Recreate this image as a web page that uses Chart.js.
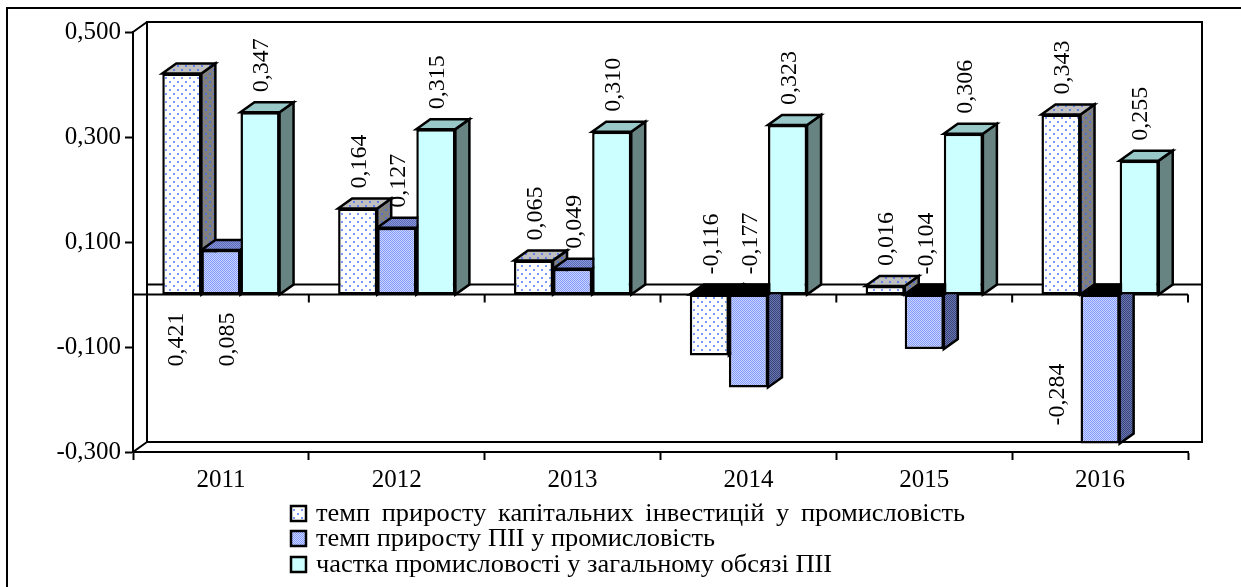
<!DOCTYPE html>
<html>
<head>
<meta charset="utf-8">
<script src="https://cdn.jsdelivr.net/npm/chart.js@4/dist/chart.umd.min.js"></script>
<style>
  body { margin: 0; background: #fff; }
  canvas { display: block; }
</style>
</head>
<body>
<canvas id="chart" width="1241" height="587"></canvas>
<script>
// data
const years = ["2011", "2012", "2013", "2014", "2015", "2016"];
const capInvestGrowth = [0.421, 0.164, 0.065, -0.116, 0.016, 0.343];
const fdiGrowth = [0.085, 0.127, 0.049, -0.177, -0.104, -0.284];
const industryShare = [0.347, 0.315, 0.310, 0.323, 0.306, 0.255];
const seriesNames = [
  "темп приросту капітальних інвестицій у промисловість",
  "темп приросту ПІІ у промисловість",
  "частка промисловості у загальному обсязі ПІІ"
];
const yTicks = [-0.3, -0.1, 0.1, 0.3, 0.5];

const FONT = "'Liberation Serif', 'Times New Roman', serif";
const DX = 14, DY = 10;

// labels that were moved by hand in the original: key "series-point"
const labelMoves = {
  "0-0": { below: 18, dx: -5 },
  "1-0": { below: 18, dx: 7 },
  "1-5": { below: 69, dx: -42 }
};

function fmt(v) {
  return v.toFixed(3).replace(".", ",");
}

// patterns
function dots(bg, dot) {
  const c = document.createElement("canvas");
  c.width = 8; c.height = 8;
  const g = c.getContext("2d");
  g.fillStyle = bg; g.fillRect(0, 0, 8, 8);
  g.fillStyle = dot;
  g.fillRect(1, 1, 2, 2);
  g.fillRect(5, 5, 2, 2);
  return g.createPattern(c, "repeat");
}
function checks(a, b) {
  const c = document.createElement("canvas");
  c.width = 2; c.height = 2;
  const g = c.getContext("2d");
  g.fillStyle = a; g.fillRect(0, 0, 2, 2);
  g.fillStyle = b; g.fillRect(0, 0, 1, 1); g.fillRect(1, 1, 1, 1);
  return g.createPattern(c, "repeat");
}

const faces = [
  { front: dots("#ffffff", "#7a98f8"), top: dots("#c0c0c0", "#6080e8"), side: dots("#808080", "#5070d8") },
  { front: checks("#ccd6ff", "#8299ff"), top: checks("#8a98d8", "#5a6ab8"), side: checks("#6c78b0", "#38427a") },
  { front: "#ccffff", top: "#99c8c8", side: "#678482" }
];

function poly(ctx, pts, fill) {
  ctx.beginPath();
  ctx.moveTo(pts[0][0], pts[0][1]);
  for (let i = 1; i < pts.length; i++) ctx.lineTo(pts[i][0], pts[i][1]);
  ctx.closePath();
  ctx.fillStyle = fill;
  ctx.fill();
  ctx.stroke();
}

const walls = {
  id: "walls",
  beforeDatasetsDraw(chart) {
    const ctx = chart.ctx;
    const a = chart.chartArea;
    const y = chart.scales.y;
    const y0 = y.getPixelForValue(0);
    ctx.save();
    ctx.strokeStyle = "#000";
    ctx.lineWidth = 2;
    // back wall
    ctx.strokeRect(a.left + DX, a.top - DY, a.right - a.left, a.bottom - a.top);
    ctx.beginPath();
    ctx.moveTo(a.left, a.top); ctx.lineTo(a.left + DX, a.top - DY);
    ctx.moveTo(a.left, a.bottom); ctx.lineTo(a.left + DX, a.bottom - DY);
    // floor at zero
    ctx.moveTo(a.left + DX, y0 - DY); ctx.lineTo(a.right + DX, y0 - DY);
    ctx.moveTo(a.left, y0); ctx.lineTo(a.right, y0);
    const step = (a.right - a.left) / years.length;
    for (let i = 0; i <= years.length; i++) {
      const px = a.left + i * step;
      ctx.moveTo(px, y0); ctx.lineTo(px, y0 + 8);
    }
    ctx.stroke();

    // value labels
    ctx.fillStyle = "#000";
    ctx.font = "24px " + FONT;
    ctx.textBaseline = "middle";
    ctx.textAlign = "left";
    chart.data.datasets.forEach((ds, si) => {
      const meta = chart.getDatasetMeta(si);
      meta.data.forEach((el, j) => {
        const p = el.getProps(["x", "y", "base"], true);
        const txt = fmt(ds.data[j]);
        const w = ctx.measureText(txt).width;
        const mv = labelMoves[si + "-" + j];
        let cx, bottom;
        if (mv) {
          cx = p.x + mv.dx;
          bottom = y0 + mv.below + w;
        } else {
          cx = p.x + 2;
          bottom = Math.min(p.y, p.base) - DY - 10;
        }
        ctx.save();
        ctx.translate(cx, bottom);
        ctx.rotate(-Math.PI / 2);
        ctx.fillText(txt, 0, 0);
        ctx.restore();
      });
    });

    // 3D tops and sides, left to right
    ctx.lineWidth = 2.5;
    years.forEach((_, j) => {
      chart.data.datasets.forEach((ds, si) => {
        const el = chart.getDatasetMeta(si).data[j];
        const p = el.getProps(["x", "y", "base", "width"], true);
        const l = p.x - p.width / 2, r = p.x + p.width / 2;
        const top = Math.min(p.y, p.base), bot = Math.max(p.y, p.base);
        const neg = ds.data[j] < 0;
        poly(ctx, [[r, top], [r + DX, top - DY], [r + DX, bot - DY], [r, bot]], faces[si].side);
        poly(ctx, [[l, top], [r, top], [r + DX, top - DY], [l + DX, top - DY]], neg ? "#000" : faces[si].top);
      });
    });
    ctx.restore();
  },
  afterDraw(chart) {
    const ctx = chart.ctx;
    ctx.save();
    ctx.strokeStyle = "#000";
    ctx.lineWidth = 2;
    ctx.beginPath();
    ctx.moveTo(7, 587); ctx.lineTo(7, 8); ctx.lineTo(1241, 8);
    ctx.stroke();

    // legend, three left-aligned rows; the first row is justified
    const rows = [514, 539, 565];
    const textLeft = 316;
    const rowWidths = [649, 399, 512];
    ctx.font = "26px " + FONT;
    ctx.textBaseline = "middle";
    ctx.textAlign = "left";
    const sx = rowWidths[1] / ctx.measureText(seriesNames[1]).width;
    seriesNames.forEach((name, i) => {
      const yy = rows[i];
      ctx.lineWidth = 2.5;
      ctx.fillStyle = faces[i].front;
      ctx.fillRect(291, yy - 8, 15, 15);
      ctx.strokeRect(291, yy - 8, 15, 15);
      ctx.fillStyle = "#000";
      ctx.save();
      ctx.translate(textLeft, yy);
      ctx.scale(sx, 1);
      const words = name.split(" ");
      const total = ctx.measureText(name).width;
      const target = rowWidths[i] / sx;
      const wordsW = words.reduce((s, w) => s + ctx.measureText(w).width, 0);
      const gap = i === 0 ? (target - wordsW) / (words.length - 1) : (total - wordsW) / (words.length - 1);
      let px = 0;
      words.forEach(w => {
        ctx.fillText(w, px, 0);
        px += ctx.measureText(w).width + gap;
      });
      ctx.restore();
    });
    ctx.restore();
  }
};

const datasets = [capInvestGrowth, fdiGrowth, industryShare].map((vals, i) => ({
  label: seriesNames[i],
  data: vals,
  backgroundColor: faces[i].front,
  borderColor: "#000",
  borderWidth: 2.5,
  borderSkipped: false,
  categoryPercentage: 0.667,
  barPercentage: 1
}));

new Chart(document.getElementById("chart"), {
  type: "bar",
  data: { labels: years, datasets },
  options: {
    responsive: false,
    animation: false,
    layout: { padding: { left: 0, top: 32, right: 53, bottom: 95 } },
    plugins: { legend: { display: false }, tooltip: { enabled: false } },
    scales: {
      x: {
        offset: true,
        grid: { drawOnChartArea: false, offset: true, tickLength: 8, tickColor: "#000", tickWidth: 2 },
        border: { color: "#000", width: 2 },
        ticks: { color: "#000", font: { family: FONT, size: 25 }, padding: 5, maxRotation: 0 },
        afterFit(s) { s.height = 40; }
      },
      y: {
        min: -0.3,
        max: 0.5,
        afterBuildTicks(s) { s.ticks = yTicks.map(v => ({ value: v })); },
        grid: { drawOnChartArea: false, tickLength: 8, tickColor: "#000", tickWidth: 2 },
        border: { color: "#000", width: 2 },
        ticks: { color: "#000", font: { family: FONT, size: 25 }, padding: 4, callback: v => fmt(v) },
        afterFit(s) { s.width = 133; }
      }
    }
  },
  plugins: [walls]
});
</script>
</body>
</html>
